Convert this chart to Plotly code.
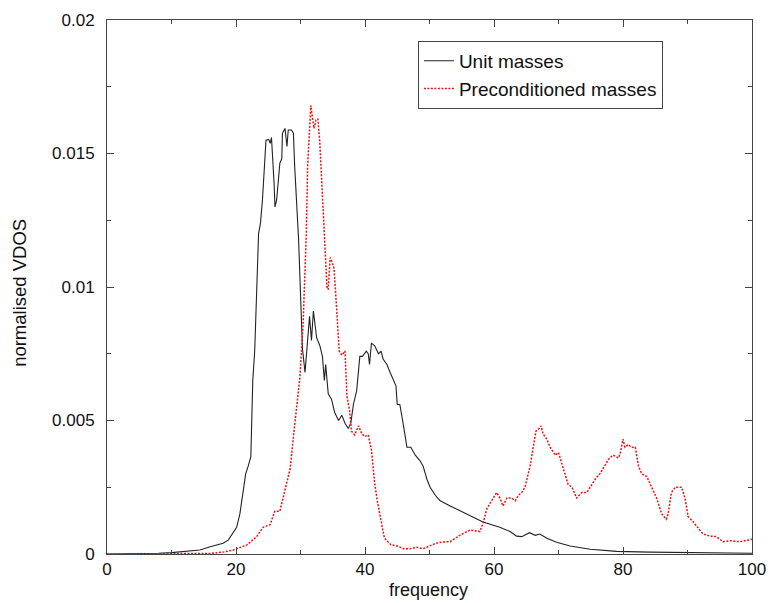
import plotly.graph_objects as go

unit_freq = [0, 5, 8, 10, 11.8, 13, 14.4, 16, 17, 18, 18.8, 19.6, 20.1, 20.6, 21.1, 21.5, 21.9, 22.3, 22.4, 22.6,
             22.9, 23.5, 23.8, 24.1, 24.65, 25.07, 25.3, 25.5, 25.9, 26.05, 26.3, 26.8, 27.1, 27.2, 27.6, 27.9,
             28.1, 28.6, 28.9, 29.1, 29.7, 30.0, 30.3, 30.7, 31.0, 31.4, 31.7, 32.0, 32.5, 33.0, 33.4, 33.7,
             33.9, 34.3, 34.8, 35.3, 35.9, 36.4, 36.9, 37.4, 37.8, 38.2, 38.7, 39.2, 39.6, 40.2, 40.5, 40.7,
             41.0, 41.5, 42.1, 42.5, 42.8, 43.4, 43.9, 44.4, 44.8, 45.0, 45.4, 45.9, 46.5, 47.1, 47.8, 48.5,
             49.0, 49.6, 50.1, 50.9, 51.6, 53.2, 55.8, 58.3, 60.9, 62.5, 63.5, 64.3, 65.5, 66.4, 67.1, 68.2,
             69.7, 71.8, 74.9, 79.0, 84.2, 89.4, 100]
unit_vdos = [0, 0.00001, 0.00003, 0.00005, 0.00009, 0.00011, 0.00015, 0.00027, 0.00033, 0.0004, 0.00052, 0.00084,
             0.001, 0.0015, 0.0023, 0.003, 0.0033, 0.00365, 0.0046, 0.0065,
             0.0076, 0.012, 0.0124, 0.01326, 0.0155, 0.01553, 0.01538, 0.0156, 0.0139, 0.0130, 0.01326, 0.01464,
             0.0148, 0.01576, 0.01594, 0.01526, 0.01588, 0.01588, 0.01576, 0.0145, 0.0118, 0.0095, 0.0077, 0.0068,
             0.0076, 0.0089, 0.0080, 0.0091, 0.0081, 0.0078, 0.0074, 0.0065, 0.0071, 0.0060, 0.0058, 0.0053,
             0.0050, 0.0052, 0.0049, 0.0047, 0.0049, 0.0056, 0.0061, 0.0074, 0.0074, 0.0076, 0.0075, 0.0071,
             0.0079, 0.0078, 0.0075, 0.0076, 0.0073, 0.0071, 0.0068, 0.0065, 0.0063, 0.0056, 0.0056, 0.0049,
             0.0040, 0.0040, 0.0037, 0.0035, 0.0033, 0.0028, 0.0025, 0.0022, 0.0020, 0.0018, 0.0015, 0.0012,
             0.0010, 0.00084, 0.00067, 0.00065, 0.0008, 0.0007, 0.00075, 0.00059, 0.00044, 0.0003, 0.00018,
             0.0001, 0.00007, 0.00005, 0.00003]

pre_freq = [0, 10, 16, 18, 19.6, 21.7, 23.2, 24.2, 25.3, 26.0, 26.8, 27.6, 28.4, 28.9, 29.4, 29.9, 30.4, 30.9,
            31.1, 31.5, 31.6, 31.9, 32.1, 32.4, 32.7, 33.0, 33.4, 33.8, 34.1, 34.3, 34.6, 34.8, 35.2, 35.6,
            36.0, 36.4, 36.9, 37.2, 37.6, 37.9, 38.4, 39.0, 39.5, 40.0, 40.5, 41.0, 41.5, 41.9, 42.5, 43, 44,
            45, 46, 47, 48, 49, 50, 51, 52, 53.2, 54.7, 56.3, 57.8, 58.3, 58.9, 59.6, 60.4, 60.9, 61.4, 62.0,
            62.7, 63.3, 63.8, 64.3, 64.8, 65.6, 66.1, 66.5, 67.0, 67.3, 67.6, 68.2, 68.7, 69.5, 70.0, 70.5,
            71.0, 71.5, 72.1, 72.8, 73.6, 74.4, 74.9, 75.7, 76.4, 77.2, 77.9, 78.5, 79.3, 79.6, 80.0, 80.3,
            80.8, 81.3, 81.9, 82.4, 82.9, 83.7, 84.4, 85.2, 86.0, 86.7, 87.0, 87.5, 88.1, 89.1, 89.6, 90.1,
            90.9, 91.7, 92.4, 93.5, 94.5, 95.5, 96.6, 98.1, 100]
pre_vdos = [0, 0, 0.00002, 0.00007, 0.00015, 0.00034, 0.00065, 0.001, 0.0011, 0.0016, 0.0016, 0.0024, 0.0032,
            0.0044, 0.0055, 0.0066, 0.0086, 0.012, 0.0145, 0.0165, 0.0168, 0.01625, 0.01594, 0.01625, 0.0163,
            0.01538, 0.01326, 0.0112, 0.0100, 0.0099, 0.0111, 0.0110, 0.0107, 0.0092, 0.0076, 0.00745, 0.0076,
            0.0059, 0.0054, 0.0046, 0.00446, 0.0048, 0.0045, 0.0044, 0.00446, 0.0039, 0.00265, 0.002, 0.0012,
            0.0006, 0.00035, 0.0003, 0.0002, 0.0002, 0.00025, 0.0002, 0.0003, 0.0004, 0.00045, 0.00046, 0.0007,
            0.0009, 0.00084, 0.00115, 0.0017, 0.00196, 0.0023, 0.0021, 0.0018, 0.0021, 0.0021, 0.0020, 0.0022,
            0.0023, 0.0025, 0.0033, 0.0040, 0.0046, 0.0047, 0.0048, 0.0045, 0.0043, 0.0040, 0.0037, 0.0038,
            0.0034, 0.0030, 0.0026, 0.0025, 0.0021, 0.0023, 0.0023, 0.0025, 0.0028, 0.0030, 0.0033, 0.0036,
            0.0037, 0.0036, 0.0038, 0.0043, 0.0040, 0.0041, 0.0040, 0.0040, 0.0033, 0.0030, 0.0029, 0.0025,
            0.0021, 0.0015, 0.0013, 0.0015, 0.0023, 0.0025, 0.0025, 0.0021, 0.0014, 0.0012, 0.00096, 0.00075,
            0.00067, 0.00065, 0.00046, 0.0005, 0.00046, 0.00055]

x_ticks = [0, 20, 40, 60, 80, 100]
y_ticks = [0, 0.005, 0.01, 0.015, 0.02]
y_tick_text = ["0", "0.005", "0.01", "0.015", "0.02"]
x_title = "frequency"
y_title = "normalised VDOS"

FONT = "Liberation Sans, Arial, Helvetica, sans-serif"

fig = go.Figure()
fig.add_trace(go.Scatter(x=unit_freq, y=unit_vdos, mode="lines", name="Unit masses",
                         line=dict(color="#222222", width=1.1)))
fig.add_trace(go.Scatter(x=pre_freq, y=pre_vdos, mode="lines", name="Preconditioned masses",
                         line=dict(color="#ee1111", width=1.5, dash="2px,1.5px")))

axis_common = dict(showgrid=False, zeroline=False, showline=True, linecolor="#444444", linewidth=1,
                   ticks="inside", mirror="allticks", ticklen=7, tickcolor="#444444",
                   automargin=False,
                   tickfont=dict(family=FONT, size=17, color="#111111"))

fig.update_layout(
    width=771, height=603,
    margin=dict(l=107, r=19, t=20, b=49),
    paper_bgcolor="white", plot_bgcolor="white",
    showlegend=True,
    legend=dict(x=0.482, y=0.961, xanchor="left", yanchor="top",
                bordercolor="#444444", borderwidth=1, bgcolor="white",
                font=dict(family=FONT, size=19, color="#111111"),
                tracegroupgap=0, itemwidth=30),
    xaxis=dict(range=[0, 100], tickvals=x_ticks, ticktext=[str(v) for v in x_ticks],
               minor=dict(dtick=10, tick0=0, ticks="inside", ticklen=4, tickcolor="#444444"),
               **axis_common),
    yaxis=dict(range=[0, 0.02], tickvals=y_ticks, ticktext=y_tick_text,
               minor=dict(dtick=0.0025, tick0=0, ticks="inside", ticklen=4, tickcolor="#444444"),
               ticklabelstandoff=8,
               **axis_common),
    annotations=[
        dict(text=x_title, xref="paper", yref="paper", x=0.499, y=0, xanchor="center", yanchor="bottom",
             yshift=-48, showarrow=False, font=dict(family=FONT, size=18, color="#111111")),
        dict(text=y_title, xref="paper", yref="paper", x=0, y=0.489, xanchor="center", yanchor="middle",
             xshift=-87, textangle=-90, showarrow=False, font=dict(family=FONT, size=18.5, color="#111111")),
    ],
)

fig.write_html("out.html")
